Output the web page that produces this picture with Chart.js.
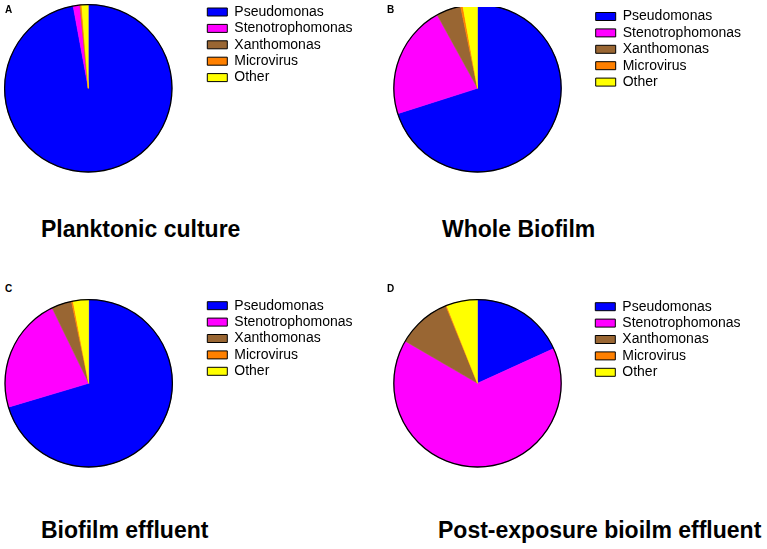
<!DOCTYPE html>
<html>
<head>
  <title>Community composition pies</title>
  <script src="https://cdn.jsdelivr.net/npm/chart.js@4"></script>
  <style>
    body {
      margin: 0;
      width: 767px;
      height: 549px;
      position: relative;
      overflow: hidden;
      background: #fff;
      font-family: "Liberation Sans", Arial, sans-serif;
      color: #000;
    }
    canvas { position: absolute; }
    .tag {
      position: absolute;
      font-size: 10px;
      line-height: 10px;
      font-weight: bold;
    }
    .name {
      position: absolute;
      font-size: 23px;
      line-height: 23px;
      font-weight: bold;
      white-space: nowrap;
    }
  </style>
</head>
<body>
  <canvas id="pieA"></canvas>
  <canvas id="pieB"></canvas>
  <canvas id="pieC"></canvas>
  <canvas id="pieD"></canvas>

  <div class="tag" style="left:5px; top:5px">A</div>
  <div class="tag" style="left:387px; top:5px">B</div>
  <div class="tag" style="left:5px; top:284px">C</div>
  <div class="tag" style="left:387px; top:284px">D</div>

  <div class="name" style="left:41px; top:218px">Planktonic culture</div>
  <div class="name" style="left:442px; top:218px">Whole Biofilm</div>
  <div class="name" style="left:41px; top:519px">Biofilm effluent</div>
  <div class="name" style="left:438px; top:519px">Post-exposure bioilm effluent</div>

  <script>
    // % of reads
    const genera = ["Pseudomonas", "Stenotrophomonas", "Xanthomonas", "Microvirus", "Other"];
    const colours = ["#0000ff", "#ff00ff", "#996633", "#ff8000", "#ffff00"];
    const planktonic = [97.1, 1.3, 0.05, 0.3, 1.25];
    const wholeBiofilm = [70.1, 21.9, 4.75, 0.45, 2.8];
    const biofilmEffluent = [70.4, 22.4, 3.9, 0.3, 3.0];
    const postExposure = [18.2, 65.2, 10.4, 0.2, 6.0];

    const LEG_PAD = 2.4, BOX_W = 20, BOX_H = 8, FONT = 14, RADIUS = 83.7;

    // black rim round the pie only, not between slices
    const outline = {
      id: "outline",
      afterDatasetsDraw(chart) {
        const arc = chart.getDatasetMeta(0).data[0];
        const ctx = chart.ctx;
        ctx.save();
        ctx.beginPath();
        ctx.arc(arc.x, arc.y, arc.outerRadius, 0, Math.PI * 2);
        ctx.lineWidth = 1.3;
        ctx.strokeStyle = "#000";
        ctx.stroke();
        ctx.restore();
      }
    };

    // cx, cy = pie centre; boxX, boxY = top-left of first legend swatch (page px)
    function drawPie(id, values, cx, cy, boxX, boxY) {
      const legLeft = boxX - LEG_PAD;
      const legTop = boxY - (FONT - BOX_H) / 2 - LEG_PAD;
      const areaLeft = 2 * cx - legLeft;
      const areaBottom = 2 * cy - legTop;
      const left = Math.floor(areaLeft);
      const top = Math.floor(legTop);
      const w = 400;
      const h = Math.ceil(areaBottom) + 4 - top;

      const canvas = document.getElementById(id);
      canvas.width = w;
      canvas.height = h;
      canvas.style.left = left + "px";
      canvas.style.top = top + "px";

      const pad = {
        left: areaLeft - left,
        top: legTop - top,
        bottom: top + h - areaBottom,
        right: 20
      };

      const chart = new Chart(canvas, {
        type: "pie",
        data: {
          labels: genera,
          datasets: [{
            data: values,
            backgroundColor: colours,
            borderColor: colours,
            borderWidth: 0.5,
            radius: RADIUS
          }]
        },
        options: {
          responsive: false,
          animation: false,
          layout: { padding: pad },
          plugins: {
            tooltip: { enabled: false },
            legend: {
              position: "right",
              align: "start",
              labels: {
                boxWidth: BOX_W,
                boxHeight: BOX_H,
                padding: LEG_PAD,
                color: "#000",
                textAlign: "left",
                font: { family: "'Liberation Sans', Arial, sans-serif", size: FONT },
                generateLabels: () => genera.map((g, i) => ({
                  text: g,
                  fillStyle: colours[i],
                  strokeStyle: "#000",
                  lineWidth: 1,
                  hidden: false,
                  index: i
                }))
              }
            }
          }
        },
        plugins: [outline]
      });

      // second pass: now the legend width is known, move the legend edge to boxX
      chart.options.layout.padding.right = w - (legLeft - left) - chart.legend.width;
      chart.update();
    }

    drawPie("pieA", planktonic, 88.3, 88.3, 207.3, 8);
    drawPie("pieB", wholeBiofilm, 477.5, 88.3, 595.7, 12.5);
    drawPie("pieC", biofilmEffluent, 88.7, 383.3, 207.3, 301.7);
    drawPie("pieD", postExposure, 477.5, 383.3, 595.3, 302.7);
  </script>
</body>
</html>
